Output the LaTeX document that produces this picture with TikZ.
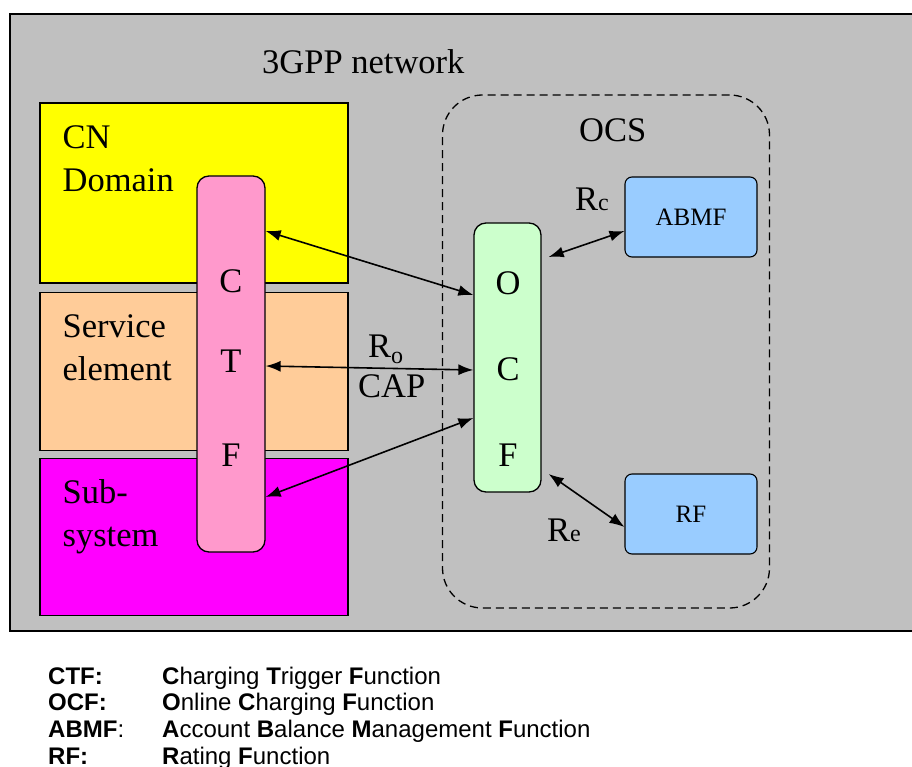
\documentclass[tikz,border=0pt]{standalone}
\usepackage{fontspec}
\setmainfont{Liberation Serif}
\setsansfont{Liberation Sans}
\usetikzlibrary{arrows.meta, positioning, calc}
\definecolor{netgray}{RGB}{192,192,192}
\definecolor{cnyellow}{RGB}{255,255,0}
\definecolor{sepeach}{RGB}{255,204,153}
\definecolor{submagenta}{RGB}{255,0,255}
\definecolor{ctfpink}{RGB}{255,153,204}
\definecolor{ocfgreen}{RGB}{204,255,204}
\definecolor{fnblue}{RGB}{153,204,255}
\newcommand{\diagfont}{\fontsize{34.5}{43}\selectfont}
\newcommand{\subfont}{\fontsize{24}{28}\selectfont}

\begin{document}
\begin{tikzpicture}[x=1pt, y=-1pt,
    area/.style={draw, rectangle, line width=1.2pt, minimum width=308pt, inner sep=0pt},
    func/.style={draw, rectangle, rounded corners=12pt, line width=1.3pt, inner sep=0pt},
    store/.style={draw, rectangle, rounded corners=7pt, line width=1.1pt, fill=fnblue, minimum width=132pt, minimum height=80pt, font=\fontsize{25}{30}\selectfont},
    lbl/.style={inner sep=0pt, align=left, font=\diagfont},
    link/.style={{Latex[length=15pt,width=11pt]}-{Latex[length=15pt,width=11pt]}, line width=1.6pt}]
    \useasboundingbox (0,0) rectangle (912,767);

    % network
    \draw[line width=1.6pt, fill=netgray] (10,14) rectangle (918,631);
    \node (net) [lbl, anchor=base west] at (262,74) {3GPP network};

    % domains
    \node (cn) [area, fill=cnyellow, minimum height=180pt] at (194,193) {};
    \node (se) [area, fill=sepeach, minimum height=158pt, below=8pt of cn] {};
    \node (sub) [area, fill=submagenta, minimum height=157pt, below=7pt of se] {};
    \node (cnlbl) [lbl, anchor=base west] at ($(cn.north west)+(23,89)$) {CN\\Domain};
    \node (selbl) [lbl, anchor=base west] at ($(se.north west)+(23,89)$) {Service\\element};
    \node (sublbl) [lbl, anchor=base west] at ($(sub.north west)+(23,89)$) {Sub-\\system};

    % OCS
    \node (ocs) [draw, dash pattern=on 8pt off 5pt, line width=1.3pt, rounded corners=40pt, minimum width=327pt, minimum height=513pt] at (606,351.5) {};
    \node (ocslbl) [lbl, anchor=base west] at (579,142) {OCS};

    % functions
    \node (ctf) [func, fill=ctfpink, minimum width=68pt, minimum height=376pt] at (231,364) {};
    \foreach \ch/\yy in {C/281, T/361, F/455}
        \node (ctf\ch) [lbl] at (231,\yy) {\ch};
    \node (ocf) [func, fill=ocfgreen, minimum width=67pt, minimum height=269pt] at (507.5,357.5) {};
    \foreach \ch/\yy in {O/283, C/369, F/455}
        \node (ocf\ch) [lbl] at (508,\yy) {\ch};
    \node (abmf) [store] at (691,217) {ABMF};
    \node (rf) [store] at (691,514) {RF};

    % reference points
    \draw[link] ($(ctf.east)+(0,-133)$) -- ($(ocf.west)+(0,-62.5)$);
    \draw[link] ($(ctf.east)+(0,2)$) -- ($(ocf.west)+(0,12.5)$);
    \draw[link] ($(ctf.east)+(0,133)$) -- ($(ocf.west)+(0,60.5)$);
    \draw[link] ($(ocf.east)+(7,-100.5)$) -- ($(abmf.west)+(0,14)$);
    \draw[link] ($(ocf.east)+(7,116.5)$) -- ($(rf.west)+(0,13)$);
    \node (rc) [lbl, anchor=base west] at (575,211) {R{\subfont c}};
    \node (ro) [lbl, anchor=base west] at (368,357) {R\raisebox{-6pt}{\subfont o}};
    \node (cap) [lbl, anchor=base west] at (358,397) {CAP};
    \node (re) [lbl, anchor=base west] at (547,541) {R{\subfont e}};

    % legend
    \node (keys) [anchor=base west, inner sep=0pt, align=left, font=\sffamily\fontsize{24}{26.6}\selectfont] at (48,764)
        {\textbf{CTF:}\\\textbf{OCF:}\\\textbf{ABMF}:\\\textbf{RF:}};
    \node (meanings) [anchor=base west, inner sep=0pt, align=left, font=\sffamily\fontsize{24}{26.6}\selectfont] at (162,764)
        {\textbf{C}harging \textbf{T}rigger \textbf{F}unction\\
         \textbf{O}nline \textbf{C}harging \textbf{F}unction\\
         \textbf{A}ccount \textbf{B}alance \textbf{M}anagement \textbf{F}unction\\
         \textbf{R}ating \textbf{F}unction};
\end{tikzpicture}
\end{document}
